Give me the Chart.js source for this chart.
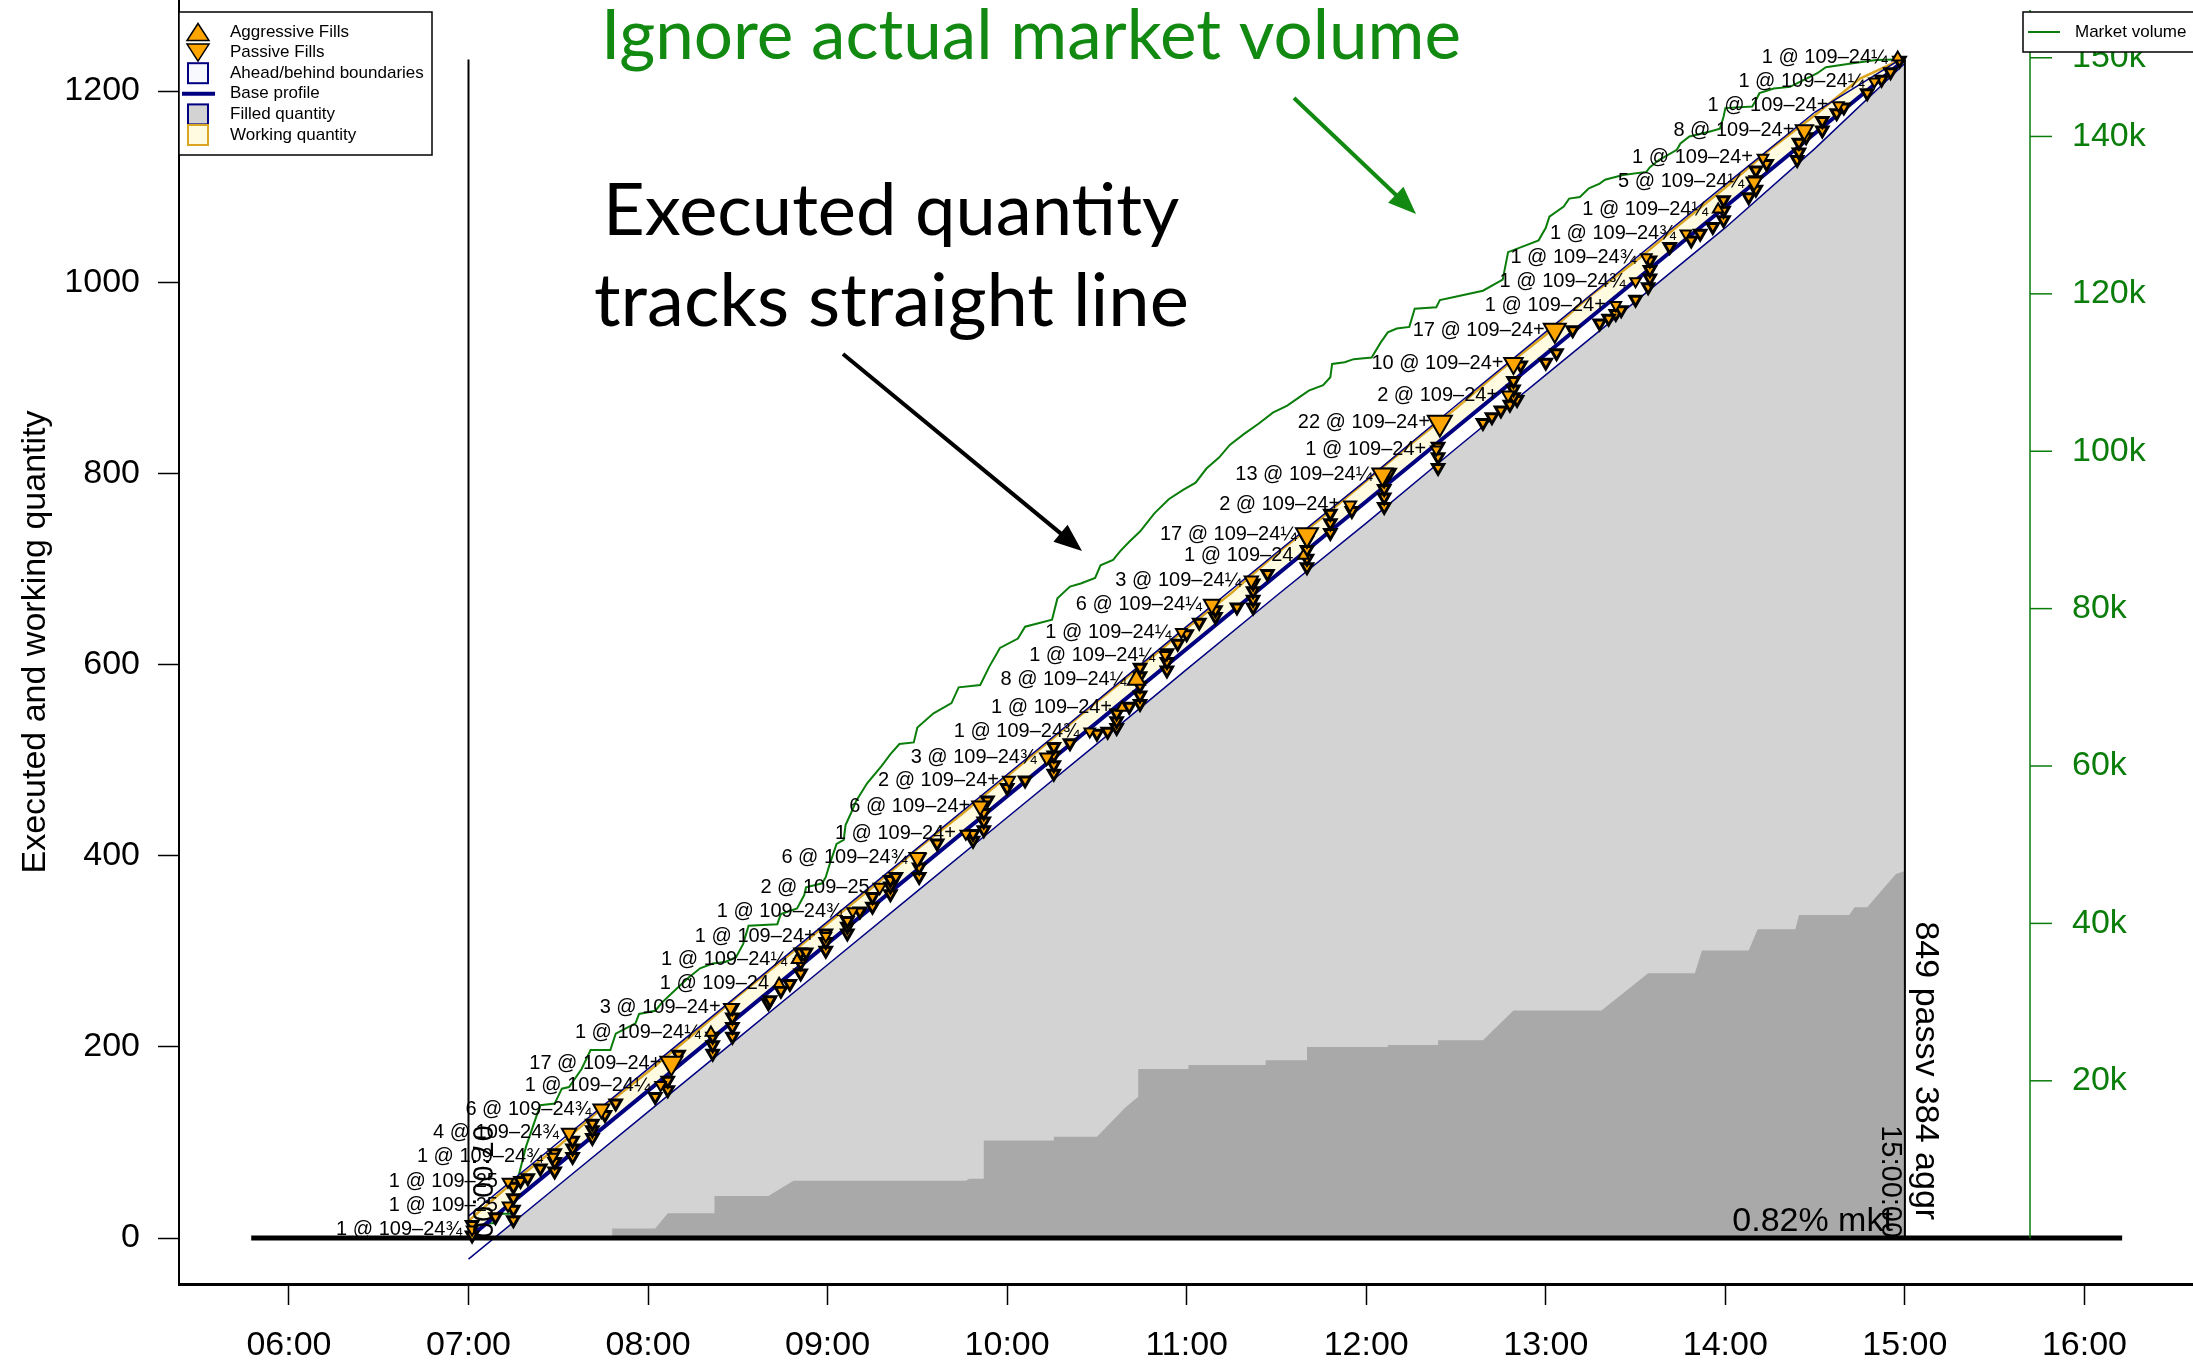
<!DOCTYPE html>
<html>
<head>
<meta charset="utf-8">
<title>Executed quantity vs base profile</title>
<script src="https://cdn.jsdelivr.net/npm/chart.js@4.4.1/dist/chart.umd.min.js"></script>
<style>
  html, body { margin: 0; padding: 0; background: #fff; }
  canvas { display: block; }
</style>
</head>
<body>
<canvas id="grafica" width="2193" height="1365" style="width:2193px;height:1365px"></canvas>
<script>
// Ejes
const horasEje = [6, 7, 8, 9, 10, 11, 12, 13, 14, 15, 16];
const ticksCantidad = [0, 200, 400, 600, 800, 1000, 1200];
const ticksVolumen = [20, 40, 60, 80, 100, 120, 140, 150]; // miles

// Perfil base y limites adelante/atras
const perfilHora = [7, 15];
const perfilCant = [0, 1233];

const bandaHora = [7, 7.5, 8, 8.5, 9, 9.5, 10, 10.5, 11, 11.5, 12, 12.5, 13, 13.5, 14, 14.5, 15];
const superiorCant = [23, 100, 177, 254, 331, 408, 485, 562, 640, 717, 793, 871, 948, 1025, 1102, 1178, 1236];
const inferiorCant = [-22, 55, 132, 209, 286, 363, 440, 517, 595, 672, 748, 826, 903, 980, 1057, 1140, 1229];

// Cantidad en trabajo (borde superior)
const trabajoHora = [7, 7.25, 7.5, 7.75, 8, 8.25, 8.5, 8.75, 9, 9.25, 9.5, 9.75, 10, 10.25, 10.5, 10.75,
  11, 11.25, 11.5, 11.75, 12, 12.25, 12.5, 12.75, 13, 13.25, 13.5, 13.75, 14, 14.25, 14.5, 14.75, 15];
const trabajoCant = [18, 59, 96, 137, 174, 213, 253, 291, 329, 367, 407, 444, 483, 522, 561, 599,
  638, 675, 716, 753, 792, 831, 868, 908, 945, 986, 1022, 1061, 1099, 1139, 1175, 1213, 1235];

// Cantidad agresiva acumulada (gris oscuro)
const agrHora = [7.80, 7.80, 8.04, 8.11, 8.37, 8.37, 8.67, 8.81, 9.77, 9.79, 9.87, 9.87, 10.26, 10.26, 10.50,
  10.66, 10.73, 10.73, 11.01, 11.01, 11.44, 11.44, 11.67, 11.67, 12.12, 12.12, 12.40, 12.40, 12.65, 12.82,
  13.31, 13.57, 13.83, 13.87, 14.13, 14.18, 14.39, 14.41, 14.69, 14.72, 14.79, 14.95, 15.0, 15.0];
const agrCant = [0, 10, 10, 26, 26, 44, 44, 60, 60, 62, 62, 102, 102, 106, 106,
  137, 148, 177, 177, 181, 181, 186, 186, 200, 200, 202, 202, 207, 207, 238,
  238, 277, 277, 301, 301, 323, 323, 338, 338, 346, 346, 381, 384, 0];

// Volumen de mercado (miles, eje derecho)
const volHora = [7.00, 7.01, 7.14, 7.17, 7.24, 7.27, 7.32, 7.38, 7.40, 7.48, 7.52, 7.56, 7.63, 7.68, 7.79, 7.82,
  7.93, 7.95, 8.04, 8.08, 8.15, 8.22, 8.29, 8.36, 8.43, 8.49, 8.53, 8.56, 8.72, 8.74, 8.83, 8.87, 8.88, 8.97,
  8.99, 9.01, 9.05, 9.09, 9.10, 9.13, 9.16, 9.22, 9.30, 9.35, 9.40, 9.48, 9.50, 9.59, 9.69, 9.73, 9.85, 9.90,
  9.96, 10.06, 10.10, 10.25, 10.28, 10.35, 10.41, 10.49, 10.52, 10.59, 10.63, 10.68, 10.74, 10.82, 10.90,
  10.98, 11.05, 11.11, 11.18, 11.24, 11.32, 11.40, 11.48, 11.56, 11.63, 11.68, 11.76, 11.80, 11.81, 11.88,
  11.93, 12.03, 12.08, 12.12, 12.17, 12.24, 12.27, 12.39, 12.41, 12.49, 12.65, 12.76, 12.79, 12.96, 13.00,
  13.02, 13.10, 13.13, 13.19, 13.24, 13.30, 13.33, 13.43, 13.56, 13.58, 13.63, 13.73, 13.75, 13.80, 13.91,
  13.97, 13.99, 14.00, 14.15, 14.17, 14.19, 14.27, 14.36, 14.51, 14.56, 14.71, 14.84, 15.00];
const volMiles = [0, 1.9, 1.9, 3.1, 3.1, 7.1, 11.6, 15.6, 16.9, 17.1, 19.0, 19.2, 21.5, 23.9, 23.9, 26.0,
  27.3, 28.5, 28.9, 30.0, 31.5, 33.0, 34.3, 34.9, 35.1, 35.7, 37.4, 39.7, 39.9, 41.2, 41.9, 43.6, 44.6, 45.1,
  45.9, 47.4, 50.1, 50.6, 52.5, 54.0, 55.6, 57.8, 60.0, 61.5, 62.8, 63.0, 64.9, 66.7, 68.0, 70.0, 70.3, 72.6,
  75.0, 76.2, 77.7, 78.6, 81.3, 82.8, 83.2, 83.9, 85.5, 86.2, 87.3, 88.5, 89.8, 92.1, 93.9,
  95.1, 96.0, 97.8, 99.2, 100.8, 102.2, 103.5, 104.9, 105.8, 106.9, 107.7, 108.4, 109.4, 111.1, 111.3,
  111.7, 111.9, 113.8, 115.1, 115.6, 115.8, 118.1, 118.3, 119.2, 119.6, 120.4, 121.8, 125.3, 126.8, 128.4,
  129.8, 131.1, 132.1, 132.3, 133.4, 134.0, 134.5, 135.1, 135.5, 136.1, 137.0, 138.3, 139.1, 140.0, 140.6,
  141.0, 142.5, 143.6, 143.8, 144.6, 145.5, 146.1, 146.3, 148.0, 148.8, 149.3, 149.7, 149.8];

// Fills con etiqueta
const fillHora = [14.96, 14.83, 14.63, 14.44, 14.21, 14.16, 13.96, 13.78, 13.56, 13.50, 13.39, 13.05, 12.82, 12.79,
  12.41, 12.39, 12.09, 11.91, 11.67, 11.65, 11.36, 11.14, 10.97, 10.88, 10.72, 10.64, 10.46, 10.22, 10.01, 9.85,
  9.77, 9.50, 9.29, 9.14, 8.99, 8.83, 8.73, 8.46, 8.35, 8.13, 8.07, 7.74, 7.56, 7.47, 7.22, 7.22, 7.02];
const fillCant = [1235, 1210, 1185, 1159, 1130, 1105, 1076, 1051, 1026, 1001, 976, 950, 915, 882,
  853, 825, 799, 767, 736, 714, 688, 663, 634, 610, 584, 555, 530, 503, 479, 452,
  423, 398, 367, 342, 316, 291, 266, 241, 215, 183, 160, 135, 110, 85, 59, 34, 9];
const fillLotes = [1, 1, 1, 8, 1, 5, 1, 1, 1, 1, 1, 17, 10, 2,
  22, 1, 13, 2, 17, 1, 3, 6, 1, 1, 8, 1, 1, 3, 2, 6,
  1, 6, 2, 1, 1, 1, 1, 3, 1, 17, 1, 6, 4, 1, 1, 1, 1];
const fillPrecio = ['24¼', '24¼', '24+', '24+', '24+', '24¼', '24¼', '24¾', '24¾', '24¾', '24+', '24+', '24+', '24+',
  '24+', '24+', '24¼', '24+', '24¼', '24', '24¼', '24¼', '24¼', '24¼', '24¼', '24+', '24¾', '24¾', '24+', '24+',
  '24+', '24¾', '25', '24¾', '24+', '24¼', '24', '24+', '24¼', '24+', '24¼', '24¾', '24¾', '24¾', '25', '25', '24¾'];
const fillLado = ['A', 'P', 'P', 'P', 'P', 'P', 'A', 'P', 'P', 'P', 'P', 'P', 'P', 'P',
  'P', 'P', 'P', 'P', 'P', 'A', 'P', 'P', 'P', 'P', 'A', 'A', 'P', 'P', 'P', 'P',
  'P', 'P', 'P', 'P', 'P', 'A', 'A', 'P', 'A', 'P', 'P', 'P', 'P', 'P', 'P', 'P', 'P'];

// Fills sin etiqueta
const chicoHora = [7.02, 7.02, 7.15, 7.25, 7.25, 7.25, 7.25, 7.29, 7.33, 7.40, 7.48, 7.48, 7.48, 7.58, 7.58, 7.58,
  7.69, 7.69, 7.69, 7.76, 7.82, 8.04, 8.11, 8.11, 8.17, 8.36, 8.36, 8.36, 8.47, 8.47, 8.47, 8.47,
  8.67, 8.68, 8.74, 8.79, 8.85, 8.85, 8.85, 8.88, 8.99, 8.99, 8.99, 9.11, 9.11, 9.11, 9.18, 9.25, 9.25,
  9.35, 9.35, 9.35, 9.38, 9.51, 9.51, 9.51, 9.61, 9.81, 9.81, 9.87, 9.87, 9.87, 9.89, 10.0, 10.1,
  10.26, 10.26, 10.26, 10.26, 10.35, 10.5, 10.56, 10.61, 10.61, 10.61, 10.68, 10.74, 10.74, 10.74, 10.74, 10.74,
  10.89, 10.89, 10.89, 10.95, 11.0, 11.07, 11.16, 11.16, 11.28, 11.37, 11.37, 11.37, 11.37, 11.45,
  11.67, 11.67, 11.67, 11.67, 11.80, 11.80, 11.80, 11.92, 12.10, 12.10, 12.10, 12.10, 12.13,
  12.40, 12.40, 12.40, 12.65, 12.70, 12.75, 12.80, 12.84, 12.82, 12.82, 12.82, 12.86,
  13.0, 13.06, 13.15, 13.3, 13.39, 13.35, 13.42, 13.50, 13.57, 13.58, 13.58, 13.58, 13.69, 13.81,
  13.86, 13.93, 13.99, 13.99, 13.99, 14.13, 14.17, 14.17, 14.17, 14.23, 14.40, 14.41, 14.41, 14.45,
  14.54, 14.54, 14.62, 14.66, 14.79, 14.87, 14.92, 14.97];
const chicoCant = [3, 14, 22, 19, 30, 42, 54, 60, 63, 73, 70, 80, 89, 85, 94, 102,
  105, 113, 120, 129, 141, 148, 155, 165, 192, 193, 202, 211, 211, 221, 231, 241,
  246, 249, 259, 266, 277, 288, 299, 299, 301, 310, 319, 319, 326, 332, 342, 347, 357,
  360, 368, 375, 378, 378, 388, 398, 413, 416, 423, 427, 436, 445, 458, 471, 479,
  486, 495, 505, 514, 518, 528, 530, 534, 541, 549, 556, 559, 568, 578, 588, 597,
  594, 603, 612, 622, 632, 644, 650, 657, 660, 660, 668, 677, 685, 695,
  702, 711, 720, 730, 738, 748, 758, 761, 765, 775, 784, 793, 801,
  806, 817, 828, 853, 859, 866, 872, 877, 880, 888, 897, 913,
  916, 926, 950, 957, 967, 962, 971, 982, 995, 1004, 1013, 1023, 1037, 1044,
  1051, 1058, 1065, 1075, 1086, 1089, 1097, 1107, 1117, 1124, 1128, 1136, 1146, 1152,
  1159, 1169, 1177, 1183, 1198, 1212, 1220, 1232];

// Lineas de referencia
const lineaCeroHora = [5.79, 16.21];
const inicioHora = 7, finHora = 15, cantTotal = 1233;

const fuente = '"Liberation Sans", Arial, Helvetica, sans-serif';
const navy = '#000080';
const oro = '#daa520';
const crema = '#fffbe0';
const verde = '#0a7d0a';

const xy = (h, v) => h.map((t, i) => ({ x: t, y: v[i] }));
const linea = (datos, extra) => Object.assign({ data: datos, showLine: true, pointRadius: 0, borderWidth: 2, tension: 0, fill: false }, extra);

// Sin margenes extra: el area del grafico queda fija
const sinPadding = s => { s.paddingTop = 0; s.paddingBottom = 0; s.paddingLeft = 0; s.paddingRight = 0; };

function flecha(ctx, x1, y1, x2, y2, color, ancho, cabeza) {
  const ang = Math.atan2(y2 - y1, x2 - x1);
  ctx.strokeStyle = color;
  ctx.fillStyle = color;
  ctx.lineWidth = ancho;
  ctx.beginPath();
  ctx.moveTo(x1, y1);
  ctx.lineTo(x2 - Math.cos(ang) * cabeza * 0.7, y2 - Math.sin(ang) * cabeza * 0.7);
  ctx.stroke();
  ctx.beginPath();
  ctx.moveTo(x2, y2);
  ctx.lineTo(x2 - cabeza * Math.cos(ang - 0.38), y2 - cabeza * Math.sin(ang - 0.38));
  ctx.lineTo(x2 - cabeza * Math.cos(ang + 0.38), y2 - cabeza * Math.sin(ang + 0.38));
  ctx.closePath();
  ctx.fill();
}

// Texto grande ajustado a un ancho dado
function textoAjustado(ctx, txt, x, yBase, ancho, familia, color) {
  ctx.font = '100px ' + familia;
  const tam = 100 * ancho / ctx.measureText(txt).width;
  ctx.font = tam.toFixed(1) + 'px ' + familia;
  ctx.fillStyle = color;
  ctx.textAlign = 'left';
  ctx.textBaseline = 'alphabetic';
  ctx.fillText(txt, x, yBase);
}

function textoVertical(ctx, txt, x, y, tam) {
  ctx.save();
  ctx.translate(x, y);
  ctx.rotate(Math.PI / 2);
  ctx.font = tam + 'px ' + fuente;
  ctx.fillStyle = '#000';
  ctx.textAlign = 'right';
  ctx.textBaseline = 'middle';
  ctx.fillText(txt, 0, 0);
  ctx.restore();
}

function triangulo(ctx, cx, cy, w, h, abajo) {
  ctx.beginPath();
  if (abajo) {
    ctx.moveTo(cx, cy + h / 2); ctx.lineTo(cx + w / 2, cy - h / 2); ctx.lineTo(cx - w / 2, cy - h / 2);
  } else {
    ctx.moveTo(cx, cy - h / 2); ctx.lineTo(cx + w / 2, cy + h / 2); ctx.lineTo(cx - w / 2, cy + h / 2);
  }
  ctx.closePath();
  ctx.fillStyle = '#ffa500';
  ctx.fill();
  ctx.strokeStyle = '#000';
  ctx.lineWidth = 1.5;
  ctx.stroke();
}

const extras = {
  id: 'extras',
  afterDatasetsDraw(chart) {
    const { ctx, scales: { x, y } } = chart;
    ctx.save();
    // etiquetas de los fills
    ctx.font = '20px ' + fuente;
    ctx.fillStyle = '#000';
    ctx.textAlign = 'right';
    ctx.textBaseline = 'middle';
    fillHora.forEach((h, i) => {
      ctx.fillText(fillLotes[i] + ' @ 109\u2013' + fillPrecio[i], x.getPixelForValue(h) - 10, y.getPixelForValue(fillCant[i]));
    });

    // textos verticales junto a inicio y fin
    const y0 = y.getPixelForValue(0);
    textoVertical(ctx, '07:00:00', x.getPixelForValue(inicioHora) + 13, y0, 29);
    textoVertical(ctx, '15:00:00', x.getPixelForValue(finHora) - 15, y0, 29);
    textoVertical(ctx, '849 passv 384 aggr', x.getPixelForValue(finHora) + 20, y0 - 18, 34);

    ctx.font = '34px ' + fuente;
    ctx.fillStyle = '#000';
    ctx.textAlign = 'right';
    ctx.textBaseline = 'alphabetic';
    ctx.fillText('0.82% mkt', x.getPixelForValue(finHora) - 12, y0 - 7);
    ctx.restore();
  },
  afterDraw(chart) {
    const { ctx, scales: { y2 } } = chart;
    ctx.save();

    // eje derecho de volumen
    const ejeX = 2030;
    ctx.strokeStyle = verde;
    ctx.lineWidth = 1.5;
    ctx.beginPath();
    ctx.moveTo(ejeX, 10);
    ctx.lineTo(ejeX, y2.getPixelForValue(0));
    ctx.stroke();
    ctx.font = '34px ' + fuente;
    ctx.fillStyle = verde;
    ctx.textAlign = 'left';
    ctx.textBaseline = 'middle';
    ticksVolumen.forEach(v => {
      const py = y2.getPixelForValue(v);
      ctx.beginPath();
      ctx.moveTo(ejeX, py);
      ctx.lineTo(ejeX + 22, py);
      ctx.stroke();
      ctx.fillText(v + 'k', ejeX + 42, py);
    });

    // leyenda izquierda
    ctx.fillStyle = '#fff';
    ctx.fillRect(179, 12, 253, 143);
    ctx.strokeStyle = '#000';
    ctx.lineWidth = 1.5;
    ctx.strokeRect(179, 12, 253, 143);
    const filas = ['Aggressive Fills', 'Passive Fills', 'Ahead/behind boundaries', 'Base profile', 'Filled quantity', 'Working quantity'];
    const cx = 198;
    filas.forEach((t, i) => {
      const cy = 32 + i * 20.6;
      if (i === 0) triangulo(ctx, cx, cy, 22, 17, false);
      if (i === 1) triangulo(ctx, cx, cy, 22, 17, true);
      if (i === 2 || i === 4 || i === 5) {
        ctx.fillStyle = i === 2 ? '#f8f8ff' : i === 4 ? '#d3d3d3' : crema;
        ctx.strokeStyle = i === 5 ? oro : navy;
        ctx.lineWidth = 2;
        ctx.fillRect(cx - 10, cy - 10, 20, 20);
        ctx.strokeRect(cx - 10, cy - 10, 20, 20);
      }
      if (i === 3) {
        ctx.strokeStyle = navy;
        ctx.lineWidth = 4;
        ctx.beginPath();
        ctx.moveTo(182, cy);
        ctx.lineTo(215, cy);
        ctx.stroke();
      }
      ctx.font = '17px ' + fuente;
      ctx.fillStyle = '#000';
      ctx.textAlign = 'left';
      ctx.textBaseline = 'middle';
      ctx.fillText(t, 230, cy);
    });

    // leyenda derecha
    ctx.fillStyle = '#fff';
    ctx.fillRect(2023, 12, 180, 40);
    ctx.strokeStyle = '#000';
    ctx.lineWidth = 1.5;
    ctx.strokeRect(2023, 12, 180, 40);
    ctx.strokeStyle = verde;
    ctx.lineWidth = 2;
    ctx.beginPath();
    ctx.moveTo(2028, 32);
    ctx.lineTo(2060, 32);
    ctx.stroke();
    ctx.font = '17px ' + fuente;
    ctx.fillStyle = '#000';
    ctx.textAlign = 'left';
    ctx.fillText('Market volume', 2075, 32);

    // anotaciones de la presentacion
    const lato = 'Lato, "Open Sans", sans-serif';
    textoAjustado(ctx, 'Ignore actual market volume', 601, 59, 860, lato, '#128a12');
    textoAjustado(ctx, 'Executed quantity', 603, 235, 576, lato, '#000');
    textoAjustado(ctx, 'tracks straight line', 594, 326, 595, lato, '#000');
    flecha(ctx, 1294, 98, 1416, 214, '#128a12', 4, 30);
    flecha(ctx, 843, 354, 1082, 551, '#000', 4, 30);
    ctx.restore();
  }
};

const datasets = [
  { // 0 fills con etiqueta
    data: xy(fillHora, fillCant),
    pointStyle: 'triangle',
    pointRadius: c => 4 + 2.1 * Math.sqrt(fillLotes[c.dataIndex]),
    pointRotation: c => fillLado[c.dataIndex] === 'P' ? 180 : 0,
    pointBackgroundColor: '#ffa500', pointBorderColor: '#000', pointBorderWidth: 2,
    order: 1
  },
  { // 1 fills chicos
    data: xy(chicoHora, chicoCant),
    pointStyle: 'triangle', pointRadius: 6.5, pointRotation: 180,
    pointBackgroundColor: '#ffa500', pointBorderColor: '#000', pointBorderWidth: 3,
    order: 2
  },
  linea(xy(lineaCeroHora, [0, 0]), { borderColor: '#000', borderWidth: 5, order: 3 }), // 2
  linea(xy([inicioHora, inicioHora], [0, cantTotal]), { borderColor: '#000', borderWidth: 2, order: 3 }), // 3
  linea(xy([finHora, finHora], [0, cantTotal]), { borderColor: '#000', borderWidth: 2, order: 3 }), // 4
  linea(xy(perfilHora, perfilCant), { borderColor: navy, borderWidth: 4, order: 4 }), // 5
  linea(xy(trabajoHora, trabajoCant), { borderColor: oro, borderWidth: 2.5, backgroundColor: crema, fill: 5, order: 6 }), // 6
  linea(xy(bandaHora, superiorCant), { borderColor: navy, borderWidth: 1.5, order: 5 }), // 7
  linea(xy(volHora, volMiles), { borderColor: verde, borderWidth: 2, yAxisID: 'y2', order: 7 }), // 8
  linea(xy(agrHora, agrCant), { borderWidth: 0, backgroundColor: '#a9a9a9', fill: 'origin', order: 8 }), // 9
  linea(xy(bandaHora, inferiorCant), { // 10
    borderColor: navy, borderWidth: 1.5,
    fill: { target: 'origin', above: '#d3d3d3', below: 'rgba(0,0,0,0)' },
    order: 9
  })
];

new Chart(document.getElementById('grafica'), {
  type: 'scatter',
  data: { datasets },
  options: {
    responsive: false,
    animation: false,
    layout: { padding: 0, autoPadding: false },
    plugins: { legend: { display: false }, tooltip: { enabled: false } },
    scales: {
      x: {
        type: 'linear', min: 5.3877, max: 16.6046,
        afterBuildTicks: s => { s.ticks = horasEje.map(v => ({ value: v })); },
        afterFit: s => { s.height = 81; sinPadding(s); },
        ticks: {
          callback: v => String(v).padStart(2, '0') + ':00',
          font: { size: 34, family: fuente }, color: '#000', padding: 20, maxRotation: 0, autoSkip: false
        },
        grid: { drawOnChartArea: false, tickLength: 21, tickWidth: 1.5, tickColor: '#000' },
        border: { display: true, color: '#000', width: 3 }
      },
      y: {
        type: 'linear', min: -48, max: 1295.2,
        afterBuildTicks: s => { s.ticks = ticksCantidad.map(v => ({ value: v })); },
        afterFit: s => { s.width = 179; sinPadding(s); },
        ticks: { callback: v => String(v), font: { size: 34, family: fuente }, color: '#000', padding: 18, autoSkip: false },
        grid: { drawOnChartArea: false, tickLength: 21, tickWidth: 1.5, tickColor: '#000' },
        border: { display: true, color: '#000', width: 2 },
        title: {
          display: true, text: 'Executed and working quantity', color: '#000',
          font: { size: 34, family: fuente }, padding: { top: 15, bottom: 0 }
        }
      },
      y2: { type: 'linear', display: false, position: 'right', min: -5.822, max: 157.34, afterFit: sinPadding }
    }
  },
  plugins: [extras]
});
</script>
</body>
</html>
